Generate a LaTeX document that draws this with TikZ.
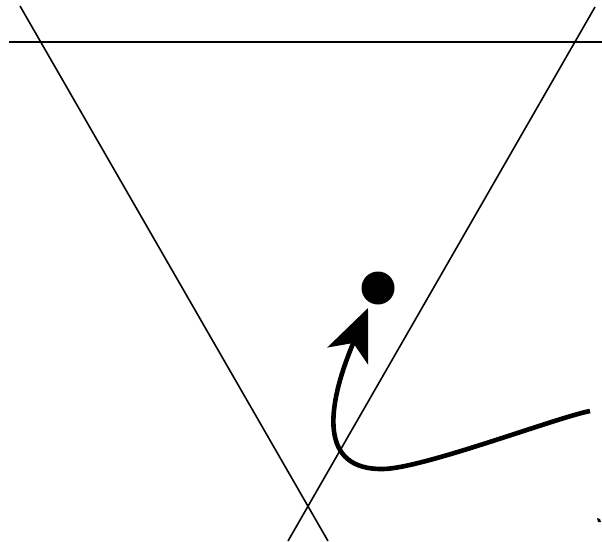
\documentclass[tikz,border=0pt]{standalone}
\usetikzlibrary{arrows.meta}
\begin{document}
\begin{tikzpicture}[x=1pt,y=-1pt,
  thinline/.style={line width=1.6pt},
  thickcurve/.style={line width=4.6pt,-{Stealth[length=52pt,width=44pt,inset=14pt]}}]
\useasboundingbox (0,0) rectangle (602,541);
\coordinate (hA) at (9,42);
\coordinate (hB) at (602,42);
\coordinate (lA) at (20,6);
\coordinate (lB) at (328,541);
\coordinate (rA) at (595,7);
\coordinate (rB) at (288,541);
\draw[thinline] (hA) -- (hB);
\draw[thinline] (lA) -- (lB);
\draw[thinline] (rA) -- (rB);
\node[circle,fill=black,inner sep=0pt,minimum size=33pt] (dot) at (378,288) {};
\coordinate (cS) at (590,411);
\coordinate (cM) at (383,469);
\coordinate (cT) at (368,308);
\draw[thickcurve] (cS) .. controls (555,418) and (423,468.4) .. (cM)
  .. controls (320,470) and (325,410) .. (cT);
\fill (597,518) -- (600,519) -- (601,522) -- (598,522) -- cycle;
\end{tikzpicture}
\end{document}
